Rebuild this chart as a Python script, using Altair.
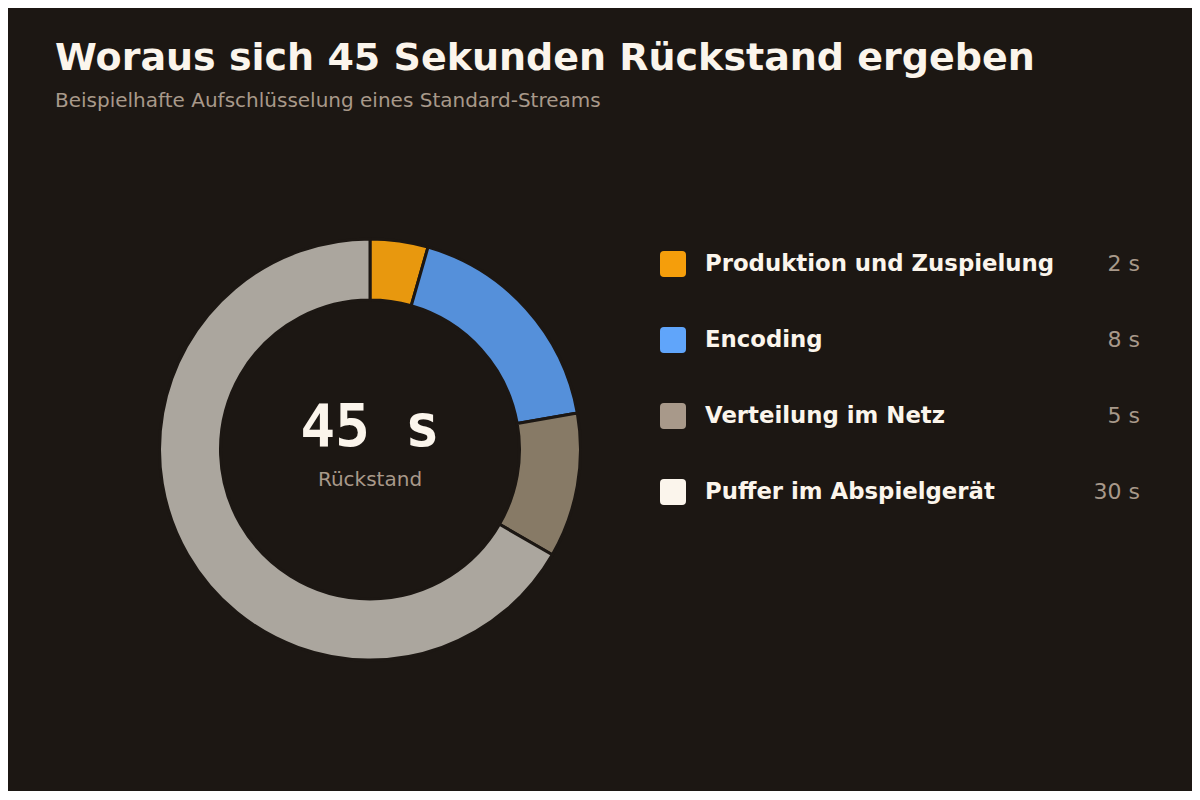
import altair as alt
import pandas as pd

BG = "#1c1713"

phases = ["Produktion und Zuspielung", "Encoding", "Verteilung im Netz", "Puffer im Abspielgerät"]
seconds = [2, 8, 5, 30]
slice_colors = ["#e8980e", "#5590da", "#877a66", "#aba69e"]
swatch_colors = ["#f59e0b", "#60a5fa", "#a8998a", "#fbf5ec"]

# plot origin on the page (after 8px page margin, padding and title block)
TOP = 130
LEFT = 55

df = pd.DataFrame({
    "phase": phases,
    "seconds": seconds,
    "label": [f"{s} s" for s in seconds],
    "order": list(range(len(phases))),
})

cx, cy = 370 - LEFT, 448.5 - TOP

donut = alt.Chart(df).mark_arc(
    innerRadius=149.5, outerRadius=210.5, stroke=BG, strokeWidth=3
).encode(
    theta=alt.Theta("seconds:Q", stack=True),
    order=alt.Order("order:Q"),
    color=alt.Color("phase:N", scale=alt.Scale(domain=phases, range=slice_colors), legend=None),
    x=alt.value(cx),
    y=alt.value(cy),
)

center = pd.DataFrame({"big": [f"{sum(seconds)} s"], "small": ["Rückstand"]})
big = alt.Chart(center).mark_text(
    font="DejaVu Sans Mono", fontSize=58, fontWeight="bold", color="#fbf5ec",
    baseline="alphabetic", align="center"
).encode(text="big:N", x=alt.value(cx), y=alt.value(445 - TOP))
small = alt.Chart(center).mark_text(
    fontSize=20, color="#a8998a", baseline="alphabetic", align="center"
).encode(text="small:N", x=alt.value(cx), y=alt.value(485 - TOP))

# hand-built legend on the right
ly = alt.Y("phase:N", scale=alt.Scale(type="point", domain=phases, range=[263 - TOP, 491 - TOP], padding=0), axis=None)
rounded = "M -0.7 -1 L 0.7 -1 Q 1 -1 1 -0.7 L 1 0.7 Q 1 1 0.7 1 L -0.7 1 Q -1 1 -1 0.7 L -1 -0.7 Q -1 -1 -0.7 -1 Z"
swatches = alt.Chart(df).mark_point(
    shape=rounded, filled=True, opacity=1, size=676, strokeWidth=0
).encode(
    y=ly,
    x=alt.value(673 - LEFT),
    color=alt.Color("phase:N", scale=alt.Scale(domain=phases, range=swatch_colors), legend=None),
)
names = alt.Chart(df).mark_text(
    fontSize=22.8, fontWeight="bold", color="#fbf5ec", align="left", baseline="middle"
).encode(y=ly, x=alt.value(705 - LEFT), text="phase:N")
vals = alt.Chart(df).mark_text(
    fontSize=22, color="#a8998a", align="right", baseline="middle"
).encode(y=ly, x=alt.value(1140 - LEFT), text="label:N")

chart = alt.layer(donut, big, small, swatches, names, vals).resolve_scale(
    color="independent"
).properties(
    width=1137,
    height=660,
    padding={"left": 47, "top": 32, "right": 0, "bottom": 0},
    background=BG,
    title=alt.TitleParams(
        text="Woraus sich 45 Sekunden Rückstand ergeben",
        subtitle="Beispielhafte Aufschlüsselung eines Standard-Streams",
        anchor="start",
        font="DejaVu Sans",
        fontSize=38,
        fontWeight="bold",
        color="#fbf5ec",
        subtitleFont="DejaVu Sans",
        subtitleFontSize=20,
        subtitleColor="#a8998a",
        subtitlePadding=13,
        offset=20,
    ),
).configure_view(stroke=None).configure_text(font="DejaVu Sans")

chart.save("out.html", embed_options={"renderer": "svg", "actions": False})
